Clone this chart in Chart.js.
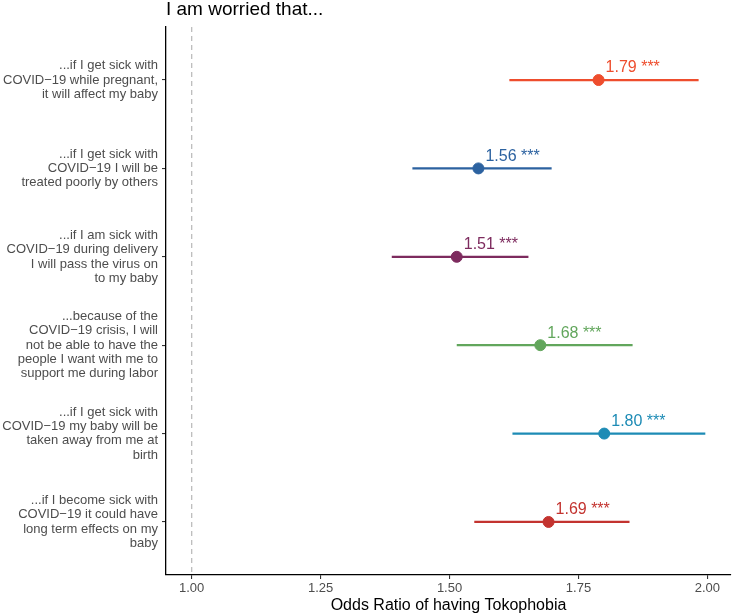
<!DOCTYPE html>
<html>
<head>
<meta charset="utf-8">
<script src="https://cdn.jsdelivr.net/npm/chart.js@4.4.1/dist/chart.umd.min.js"></script>
<style>
  html, body { margin: 0; padding: 0; background: #fff; }
  #wrap { width: 733px; height: 615px; position: relative; }
</style>
</head>
<body>
<div id="wrap"><canvas id="forestChart"></canvas></div>
<script>
// statements, top to bottom
const categories = [
    ['...if I get sick with', 'COVID\u221219 while pregnant,', 'it will affect my baby'],
    ['...if I get sick with', 'COVID\u221219 I will be', 'treated poorly by others'],
    ['...if I am sick with', 'COVID\u221219 during delivery', 'I will pass the virus on', 'to my baby'],
    ['...because of the', 'COVID\u221219 crisis, I will', 'not be able to have the', 'people I want with me to', 'support me during labor'],
    ['...if I get sick with', 'COVID\u221219 my baby will be', 'taken away from me at', 'birth'],
    ['...if I become sick with', 'COVID\u221219 it could have', 'long term effects on my', 'baby']
];
const oddsRatio = [1.789, 1.556, 1.514, 1.676, 1.800, 1.692];
const ciLow = [1.616, 1.428, 1.388, 1.514, 1.622, 1.548];
const ciHigh = [1.983, 1.698, 1.653, 1.855, 1.996, 1.849];
const stars = ['***', '***', '***', '***', '***', '***'];
const colors = ['#EE4D2D', '#2C62A0', '#7D2B5E', '#62A65C', '#1D8BB5', '#C3332F'];
const xTicks = [1.00, 1.25, 1.50, 1.75, 2.00];
const refLine = 1.0;

const font = "'Liberation Sans', Arial, sans-serif";

const datasets = [];

// reference line at OR = 1
datasets.push({
    type: 'line',
    data: [{ x: refLine, y: 0.4 }, { x: refLine, y: 6.6 }],
    borderColor: '#BDBDBD',
    borderWidth: 1.3,
    borderDash: [5, 4],
    pointRadius: 0,
    order: 3
});

// confidence intervals
categories.forEach((c, i) => {
    datasets.push({
        type: 'line',
        data: [{ x: ciLow[i], y: i + 1 }, { x: ciHigh[i], y: i + 1 }],
        borderColor: colors[i],
        borderWidth: 2.2,
        pointRadius: 0,
        order: 2
    });
});

// point estimates
datasets.push({
    type: 'scatter',
    data: oddsRatio.map((v, i) => ({ x: v, y: i + 1 })),
    backgroundColor: colors,
    borderColor: colors,
    pointRadius: 5.5,
    order: 1
});

const labelPlugin = {
    id: 'orLabels',
    afterDatasetsDraw(chart) {
        const ctx = chart.ctx;
        const xs = chart.scales.x;
        const ys = chart.scales.y;
        ctx.save();
        ctx.font = '16px ' + font;
        ctx.textAlign = 'left';
        ctx.textBaseline = 'middle';
        oddsRatio.forEach((v, i) => {
            ctx.fillStyle = colors[i];
            ctx.fillText(v.toFixed(2) + ' ' + stars[i], xs.getPixelForValue(v) + 7, ys.getPixelForValue(i + 1) - 12);
        });
        // title
        ctx.fillStyle = '#000';
        ctx.font = '19px ' + font;
        ctx.textBaseline = 'alphabetic';
        ctx.fillText('I am worried that...', chart.chartArea.left, 15);
        ctx.restore();
    }
};

new Chart(document.getElementById('forestChart'), {
    data: { datasets: datasets },
    options: {
        responsive: true,
        maintainAspectRatio: false,
        animation: false,
        layout: { autoPadding: false, padding: { top: 27, right: 2, left: 0, bottom: 0 } },
        plugins: {
            legend: { display: false },
            tooltip: { enabled: false }
        },
        scales: {
            x: {
                type: 'linear',
                min: 0.9502,
                max: 2.0458,
                afterBuildTicks: s => { s.ticks = xTicks.map(v => ({ value: v })); },
                afterFit: s => { s.height = 40; s.paddingLeft = 0; s.paddingRight = 0; },
                border: { display: true, color: '#000', width: 1.3 },
                grid: { drawOnChartArea: false, tickLength: 4, color: '#333', lineWidth: 1.1 },
                ticks: {
                    padding: 2,
                    color: '#4D4D4D',
                    font: { family: font, size: 13 },
                    callback: v => Number(v).toFixed(2)
                },
                title: {
                    display: true,
                    text: 'Odds Ratio of having Tokophobia',
                    color: '#000',
                    font: { family: font, size: 16 },
                    padding: { top: 0, bottom: 0 }
                }
            },
            y: {
                type: 'linear',
                reverse: true,
                min: 0.4,
                max: 6.6,
                afterBuildTicks: s => { s.ticks = categories.map((c, i) => ({ value: i + 1 })); },
                afterFit: s => { s.width = 166; s.paddingTop = 0; s.paddingBottom = 0; },
                border: { display: true, color: '#000', width: 1.3 },
                grid: { drawOnChartArea: false, tickLength: 4, color: '#333', lineWidth: 1.1 },
                ticks: {
                    padding: 4,
                    color: '#4D4D4D',
                    font: { family: font, size: 13, lineHeight: 1.1 },
                    callback: v => categories[Math.round(v) - 1]
                }
            }
        }
    },
    plugins: [labelPlugin]
});
</script>
</body>
</html>
